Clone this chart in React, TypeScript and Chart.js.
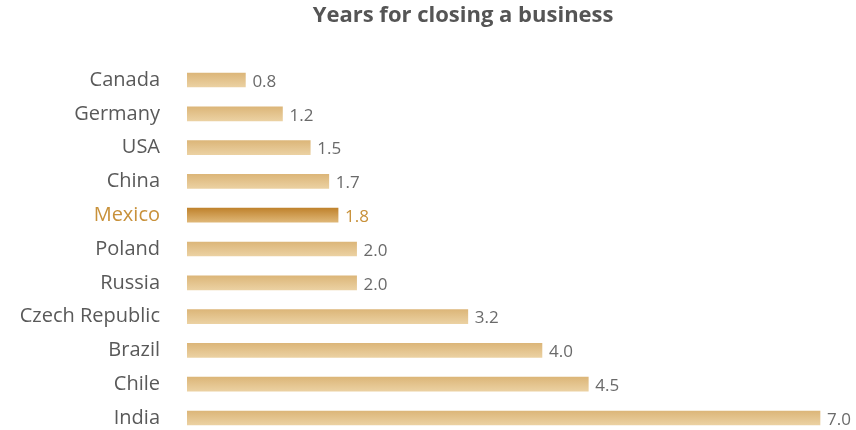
import React, { useEffect, useRef } from "react";
import { Chart, registerables } from "chart.js";

Chart.register(...registerables);

const TITLE = "Years for closing a business";
const countries = ["Canada", "Germany", "USA", "China", "Mexico", "Poland", "Russia", "Czech Republic", "Brazil", "Chile", "India"];
const years = [0.8, 1.2, 1.5, 1.7, 1.8, 2.0, 2.0, 3.2, 4.0, 4.5, 7.0];
const highlight = "Mexico";

const FONT = "'Open Sans', 'Noto Sans', sans-serif";
const TEXT = "#595959";
const HI_TEXT = "#c8913a";

export default function App() {
  const ref = useRef<HTMLCanvasElement | null>(null);

  useEffect(() => {
    const canvas = ref.current;
    if (!canvas) return;

    const titlePlugin = {
      id: "titleText",
      afterDraw(chart: any) {
        const c = chart.ctx;
        c.save();
        c.font = `bold 22px ${FONT}`;
        c.fillStyle = "#555555";
        c.textAlign = "center";
        c.textBaseline = "middle";
        c.fillText(TITLE, chart.width * 0.541, 16);
        c.restore();
      },
    };

    const valuePlugin = {
      id: "valueLabels",
      afterDatasetsDraw(chart: any) {
        const c = chart.ctx;
        const meta = chart.getDatasetMeta(0);
        c.save();
        c.font = `17px ${FONT}`;
        c.textAlign = "left";
        c.textBaseline = "middle";
        meta.data.forEach((el: any, i: number) => {
          c.fillStyle = countries[i] === highlight ? HI_TEXT : "#6a6a6a";
          c.fillText(years[i].toFixed(1), el.x + 7, el.y + 2);
        });
        c.restore();
      },
    };

    const barFill = (ctx: any) => {
      const chart = ctx.chart;
      const ys = chart.scales?.y;
      const isHi = countries[ctx.dataIndex] === highlight;
      if (!ys || !chart.chartArea) return isHi ? "#d3a157" : "#e3c48c";
      const py = ys.getPixelForValue(ctx.dataIndex);
      const g = chart.ctx.createLinearGradient(0, py - 7, 0, py + 7);
      if (isHi) {
        g.addColorStop(0, "#c0832e");
        g.addColorStop(1, "#dfb777");
      } else {
        g.addColorStop(0, "#dcb679");
        g.addColorStop(1, "#ebd1a2");
      }
      return g;
    };

    const chart = new Chart(canvas, {
      type: "bar",
      data: {
        labels: countries,
        datasets: [
          {
            data: years,
            backgroundColor: barFill,
            borderWidth: 0,
            barThickness: 14,
            clip: { left: 0, top: false, right: false, bottom: false } as any,
          },
        ],
      },
      plugins: [titlePlugin, valuePlugin],
      options: {
        indexAxis: "y",
        responsive: false,
        animation: false,
        layout: { padding: { top: 80, bottom: 12, left: 0, right: 36 } },
        plugins: {
          legend: { display: false },
          title: { display: false },
          tooltip: { enabled: false },
        },
        scales: {
          x: {
            display: false,
            min: 0.17,
            max: 7,
          },
          y: {
            offset: false,
            border: { display: false },
            grid: { display: false, drawTicks: false },
            afterFit: (scale: any) => {
              scale.width = 187;
              scale.paddingTop = 0;
              scale.paddingBottom = 0;
            },
            ticks: {
              padding: 27,
              font: { family: FONT, size: 20 },
              color: (c: any) => (countries[c.index] === highlight ? HI_TEXT : TEXT),
            },
          },
        },
      },
    });

    return () => chart.destroy();
  }, []);

  return (
    <div style={{ position: "absolute", left: 0, top: 0, width: 856, height: 430, background: "#fff" }}>
      <canvas ref={ref} width={856} height={430} style={{ display: "block" }} />
    </div>
  );
}
